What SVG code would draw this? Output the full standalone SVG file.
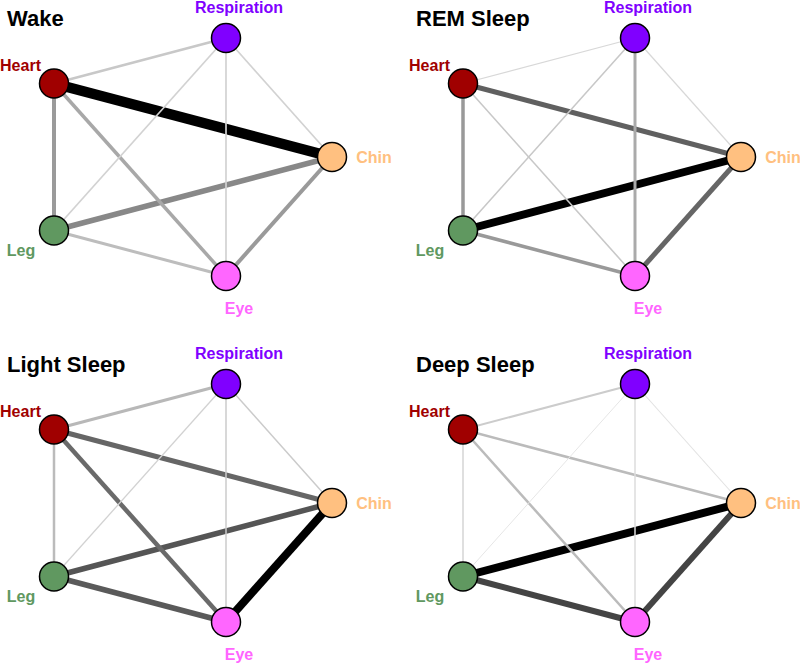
<svg xmlns="http://www.w3.org/2000/svg" width="800" height="664" viewBox="0 0 800 664">
<style>
text{font-family:"Liberation Sans",Arial,sans-serif;font-weight:bold}
.title{font-size:22px;fill:#000}
.lbl{font-size:16px;text-anchor:middle}
circle{stroke:#000;stroke-width:1.5}
.resp circle{fill:#8000ff}.resp text{fill:#8000ff}
.heart circle{fill:#a00000}.heart text{fill:#a00000}
.chin circle{fill:#ffc080}.chin text{fill:#ffc080}
.leg circle{fill:#609860}.leg text{fill:#609860}
.eye circle{fill:#ff66ff}.eye text{fill:#ff66ff}
line{stroke-linecap:butt}
</style>
<rect width="800" height="664" fill="#fff"/>

<!-- Wake -->
<g id="wake">
<text class="title" x="7" y="26">Wake</text>
<g id="wake-edges">
<line x1="54" y1="83.5" x2="332" y2="157" stroke="#000" stroke-width="10.5"/>
<line x1="54" y1="230.5" x2="332" y2="157" stroke="#888" stroke-width="5.5"/>
<line x1="54" y1="83.5" x2="54" y2="230.5" stroke="#9a9a9a" stroke-width="4"/>
<line x1="332" y1="157" x2="226" y2="276" stroke="#9a9a9a" stroke-width="4"/>
<line x1="54" y1="83.5" x2="226" y2="276" stroke="#a8a8a8" stroke-width="3.5"/>
<line x1="54" y1="230.5" x2="226" y2="276" stroke="#bdbdbd" stroke-width="3"/>
<line x1="54" y1="83.5" x2="226" y2="38" stroke="#c8c8c8" stroke-width="2.6"/>
<line x1="226" y1="38" x2="54" y2="230.5" stroke="#d2d2d2" stroke-width="1.7"/>
<line x1="226" y1="38" x2="226" y2="276" stroke="#d2d2d2" stroke-width="1.7"/>
<line x1="226" y1="38" x2="332" y2="157" stroke="#d2d2d2" stroke-width="1.7"/>
</g>
<g id="wake-respiration" class="resp"><circle cx="226" cy="38" r="14.5"/><text class="lbl" x="239" y="12.5">Respiration</text></g>
<g id="wake-heart" class="heart"><circle cx="54" cy="83.5" r="14.5"/><text class="lbl" x="20.5" y="70.5">Heart</text></g>
<g id="wake-chin" class="chin"><circle cx="332" cy="157" r="14.5"/><text class="lbl" x="374" y="162.5">Chin</text></g>
<g id="wake-leg" class="leg"><circle cx="54" cy="230.5" r="14.5"/><text class="lbl" x="21" y="256">Leg</text></g>
<g id="wake-eye" class="eye"><circle cx="226" cy="276" r="14.5"/><text class="lbl" x="239" y="314">Eye</text></g>
</g>

<!-- REM -->
<g id="rem" transform="translate(409,0)">
<text class="title" x="7" y="26">REM Sleep</text>
<g id="rem-edges">
<line x1="54" y1="230.5" x2="332" y2="157" stroke="#000" stroke-width="8"/>
<line x1="54" y1="83.5" x2="332" y2="157" stroke="#606060" stroke-width="5"/>
<line x1="332" y1="157" x2="226" y2="276" stroke="#666" stroke-width="5"/>
<line x1="54" y1="83.5" x2="54" y2="230.5" stroke="#999" stroke-width="3.5"/>
<line x1="54" y1="230.5" x2="226" y2="276" stroke="#999" stroke-width="3.5"/>
<line x1="226" y1="38" x2="226" y2="276" stroke="#aaa" stroke-width="3"/>
<line x1="54" y1="83.5" x2="226" y2="276" stroke="#c8c8c8" stroke-width="1.6"/>
<line x1="226" y1="38" x2="54" y2="230.5" stroke="#c8c8c8" stroke-width="1.6"/>
<line x1="54" y1="83.5" x2="226" y2="38" stroke="#d8d8d8" stroke-width="1.2"/>
<line x1="226" y1="38" x2="332" y2="157" stroke="#d8d8d8" stroke-width="1.2"/>
</g>
<g id="rem-respiration" class="resp"><circle cx="226" cy="38" r="14.5"/><text class="lbl" x="239" y="12.5">Respiration</text></g>
<g id="rem-heart" class="heart"><circle cx="54" cy="83.5" r="14.5"/><text class="lbl" x="20.5" y="70.5">Heart</text></g>
<g id="rem-chin" class="chin"><circle cx="332" cy="157" r="14.5"/><text class="lbl" x="374" y="162.5">Chin</text></g>
<g id="rem-leg" class="leg"><circle cx="54" cy="230.5" r="14.5"/><text class="lbl" x="21" y="256">Leg</text></g>
<g id="rem-eye" class="eye"><circle cx="226" cy="276" r="14.5"/><text class="lbl" x="239" y="314">Eye</text></g>
</g>

<!-- Light -->
<g id="light" transform="translate(0,346)">
<text class="title" x="7" y="26">Light Sleep</text>
<g id="light-edges">
<line x1="332" y1="157" x2="226" y2="276" stroke="#000" stroke-width="8"/>
<line x1="54" y1="230.5" x2="332" y2="157" stroke="#555" stroke-width="5.5"/>
<line x1="54" y1="230.5" x2="226" y2="276" stroke="#5a5a5a" stroke-width="5.5"/>
<line x1="54" y1="83.5" x2="332" y2="157" stroke="#666" stroke-width="5"/>
<line x1="54" y1="83.5" x2="226" y2="276" stroke="#6a6a6a" stroke-width="4.5"/>
<line x1="54" y1="83.5" x2="226" y2="38" stroke="#b8b8b8" stroke-width="3"/>
<line x1="54" y1="83.5" x2="54" y2="230.5" stroke="#bbb" stroke-width="2.5"/>
<line x1="226" y1="38" x2="226" y2="276" stroke="#cbcbcb" stroke-width="1.5"/>
<line x1="226" y1="38" x2="332" y2="157" stroke="#cbcbcb" stroke-width="1.5"/>
<line x1="226" y1="38" x2="54" y2="230.5" stroke="#d2d2d2" stroke-width="1.3"/>
</g>
<g id="light-respiration" class="resp"><circle cx="226" cy="38" r="14.5"/><text class="lbl" x="239" y="12.5">Respiration</text></g>
<g id="light-heart" class="heart"><circle cx="54" cy="83.5" r="14.5"/><text class="lbl" x="20.5" y="70.5">Heart</text></g>
<g id="light-chin" class="chin"><circle cx="332" cy="157" r="14.5"/><text class="lbl" x="374" y="162.5">Chin</text></g>
<g id="light-leg" class="leg"><circle cx="54" cy="230.5" r="14.5"/><text class="lbl" x="21" y="256">Leg</text></g>
<g id="light-eye" class="eye"><circle cx="226" cy="276" r="14.5"/><text class="lbl" x="239" y="314">Eye</text></g>
</g>

<!-- Deep -->
<g id="deep" transform="translate(409,346)">
<text class="title" x="7" y="26">Deep Sleep</text>
<g id="deep-edges">
<line x1="54" y1="230.5" x2="332" y2="157" stroke="#000" stroke-width="8"/>
<line x1="54" y1="230.5" x2="226" y2="276" stroke="#444" stroke-width="6"/>
<line x1="332" y1="157" x2="226" y2="276" stroke="#444" stroke-width="6"/>
<line x1="54" y1="83.5" x2="332" y2="157" stroke="#bbb" stroke-width="2.5"/>
<line x1="54" y1="83.5" x2="226" y2="276" stroke="#bbb" stroke-width="2.5"/>
<line x1="54" y1="83.5" x2="226" y2="38" stroke="#ccc" stroke-width="2"/>
<line x1="54" y1="83.5" x2="54" y2="230.5" stroke="#d5d5d5" stroke-width="1.5"/>
<line x1="226" y1="38" x2="226" y2="276" stroke="#dcdcdc" stroke-width="1.5"/>
<line x1="226" y1="38" x2="332" y2="157" stroke="#e2e2e2" stroke-width="1.1"/>
<line x1="226" y1="38" x2="54" y2="230.5" stroke="#e6e6e6" stroke-width="1"/>
</g>
<g id="deep-respiration" class="resp"><circle cx="226" cy="38" r="14.5"/><text class="lbl" x="239" y="12.5">Respiration</text></g>
<g id="deep-heart" class="heart"><circle cx="54" cy="83.5" r="14.5"/><text class="lbl" x="20.5" y="70.5">Heart</text></g>
<g id="deep-chin" class="chin"><circle cx="332" cy="157" r="14.5"/><text class="lbl" x="374" y="162.5">Chin</text></g>
<g id="deep-leg" class="leg"><circle cx="54" cy="230.5" r="14.5"/><text class="lbl" x="21" y="256">Leg</text></g>
<g id="deep-eye" class="eye"><circle cx="226" cy="276" r="14.5"/><text class="lbl" x="239" y="314">Eye</text></g>
</g>
</svg>
